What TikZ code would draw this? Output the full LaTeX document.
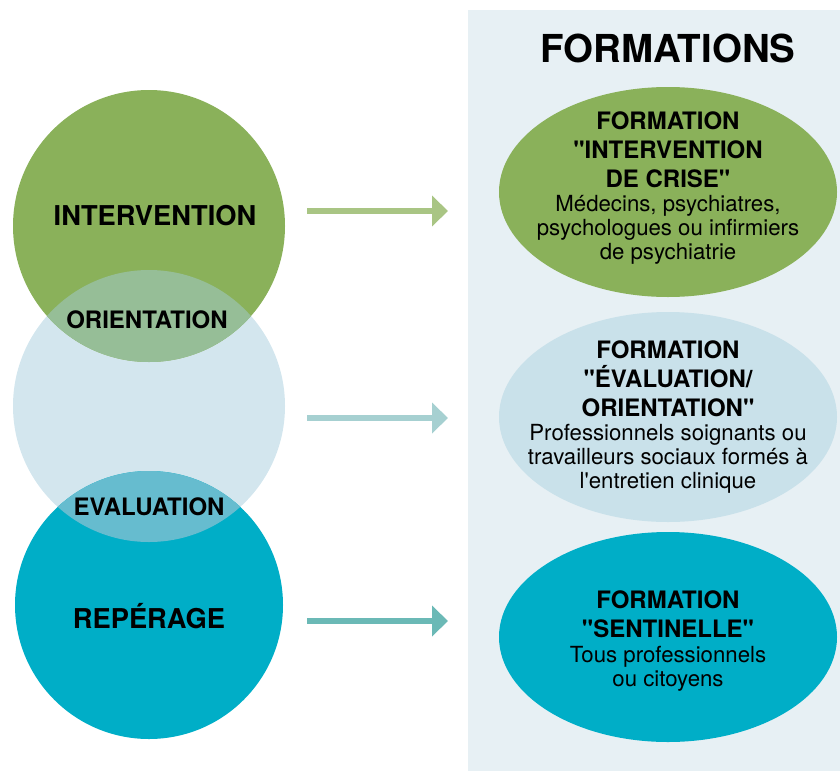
\documentclass[tikz,border=0pt]{standalone}
\usepackage{fontspec}
\setmainfont{TeX Gyre Heros}[Ligatures=TeXOff]
\usepackage{xcolor}
\usepackage{tikz}
\usetikzlibrary{shapes,positioning,calc,arrows.meta}

\definecolor{interGreen}{HTML}{8AB15A}
\definecolor{orientGreen}{HTML}{96BE97}
\definecolor{orientBlue}{HTML}{D3E6EE}
\definecolor{evalBlue}{HTML}{66BCCF}
\definecolor{repTeal}{HTML}{00AEC7}
\definecolor{panelBlue}{HTML}{E7F0F4}
\definecolor{formBlue}{HTML}{C9E1EA}
\definecolor{arrowGreen}{HTML}{A9C584}
\definecolor{arrowBlue}{HTML}{A6D0D1}
\definecolor{arrowTeal}{HTML}{6BB9B6}

\newcommand{\formhead}[1]{{\fontsize{24}{24}\selectfont\bfseries #1}}

\begin{document}
\begin{tikzpicture}[x=1pt, y=-1pt,
    circlab/.style={anchor=base, font=\fontsize{27.3}{27}\selectfont\bfseries},
    overlab/.style={anchor=base, font=\fontsize{24}{24}\selectfont\bfseries},
    formbox/.style={ellipse, minimum width=338pt, minimum height=210pt, inner sep=0pt},
    formtxt/.style={align=center, font=\fontsize{22.2}{24}\selectfont},
    flow/.style={line width=6pt, -{Triangle[length=16pt, width=30pt]}}]
    \useasboundingbox (0,0) rectangle (840,771);

    % Panel des formations
    \fill [panelBlue] (468,10) rectangle (840,771);
    \node [anchor=base, font=\fontsize{38.5}{38}\selectfont\bfseries] (title) at (668,62) {FORMATIONS};

    % Cercles
    \coordinate (cInter) at (149,226);
    \coordinate (cOrient) at (149,406);
    \coordinate (cRep) at (149,605);
    \fill [orientBlue] (cOrient) circle [radius=136pt];
    \fill [interGreen] (cInter) circle [radius=136pt];
    \fill [repTeal] (cRep) circle [radius=134pt];
    \begin{scope}
        \clip (cInter) circle [radius=136pt];
        \fill [orientGreen] (cOrient) circle [radius=136pt];
    \end{scope}
    \begin{scope}
        \clip (cRep) circle [radius=134pt];
        \fill [evalBlue] (cOrient) circle [radius=136pt];
    \end{scope}

    \node [circlab] (lInter) at (155,225) {INTERVENTION};
    \node [overlab] (lOrient) at (147,328) {ORIENTATION};
    \node [overlab] (lEval) at (149,515) {EVALUATION};
    \node [circlab] (lRep) at (149,628) {REPÉRAGE};

    % Formations
    \node [formbox, fill=interGreen] (fInter) at (668,192) {};
    \node [formbox, fill=formBlue] (fOrient) at (668,417) {};
    \node [formbox, fill=repTeal] (fRep) at (668,637) {};

    \node [formtxt] (tInter) at (668,188) {\formhead{FORMATION}\\[5pt]
        \formhead{"INTERVENTION}\\[5pt] \formhead{DE CRISE"}\\[0.5pt]
        Médecins, psychiatres,\\ psychologues ou infirmiers\\ de psychiatrie};
    \node [formtxt] (tOrient) at (668,417) {\formhead{FORMATION}\\[5pt]
        \formhead{"ÉVALUATION/}\\[5pt] \formhead{ORIENTATION"}\\[0.5pt]
        Professionnels soignants ou\\ travailleurs sociaux formés à\\
        l'entretien clinique};
    \node [formtxt] (tRep) at (668,641) {\formhead{FORMATION}\\[5pt]
        \formhead{"SENTINELLE"}\\[0.5pt]
        Tous professionnels\\ ou citoyens};

    % Fleches
    \coordinate (aInterS) at (307,211);
    \coordinate (aInterE) at (448,211);
    \coordinate (aOrientS) at (307,418);
    \coordinate (aOrientE) at (448,418);
    \coordinate (aRepS) at (307,621);
    \coordinate (aRepE) at (448,621);
    \draw [flow, arrowGreen] (aInterS) -- (aInterE);
    \draw [flow, arrowBlue] (aOrientS) -- (aOrientE);
    \draw [flow, arrowTeal] (aRepS) -- (aRepE);
\end{tikzpicture}
\end{document}
